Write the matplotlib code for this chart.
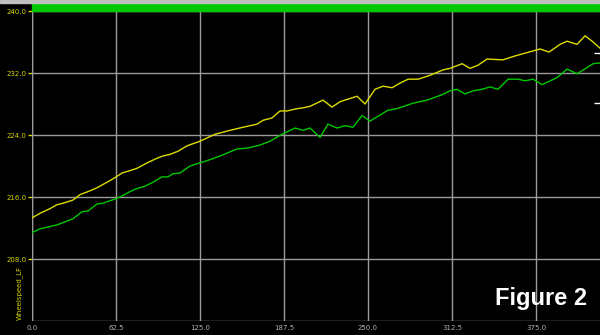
import matplotlib
matplotlib.use('Agg')
import matplotlib.pyplot as plt

# wheel speed traces
x_yel = [0, 5.95, 13.4, 18.5, 23.1, 30.4, 35.7, 43.2, 48.4, 55.8, 61.8, 67.0, 72.9, 78.1,
         85.6, 93.0, 97.5, 102.7, 108.6, 115.3, 125.0, 136.2, 147.3, 157.0, 167.4, 171.9,
         178.6, 184.5, 189.7, 197.2, 201.6, 206.8, 216.5, 223.2, 229.2, 241.8, 247.8,
         255.2, 261.2, 267.9, 273.8, 279.8, 287.2, 296.1, 305.8, 311.0, 320.0, 325.9,
         331.8, 338.5, 350.4, 359.4, 378.0, 384.7, 392.9, 398.1, 405.5, 411.5, 417.5, 422.6]
y_yel = [213.3, 213.9, 214.5, 215.0, 215.2, 215.6, 216.3, 216.8, 217.2, 217.9, 218.5, 219.1,
         219.4, 219.7, 220.4, 221.0, 221.3, 221.5, 221.9, 222.6, 223.2, 224.1, 224.6, 225.0,
         225.4, 225.9, 226.2, 227.1, 227.1, 227.4, 227.5, 227.7, 228.5, 227.6, 228.3, 229.0,
         228.0, 229.9, 230.3, 230.1, 230.7, 231.2, 231.2, 231.7, 232.4, 232.6, 233.2, 232.6,
         233.0, 233.8, 233.7, 234.2, 235.1, 234.7, 235.7, 236.1, 235.7, 236.8, 236.0, 235.2]

x_grn = [0, 5.95, 11.2, 18.6, 24.6, 30.5, 37.2, 41.7, 48.4, 52.8, 59.5, 65.5, 70.7, 76.6,
         84.1, 90.0, 96.7, 101.2, 104.9, 110.1, 117.6, 125.0, 133.9, 139.9, 152.5, 160.0,
         169.6, 177.1, 186.0, 195.7, 201.6, 206.8, 214.3, 220.2, 226.9, 232.9, 238.8, 245.5,
         251.5, 264.9, 271.6, 283.5, 293.9, 305.1, 311.0, 316.2, 322.2, 328.1, 334.8, 340.8,
         346.7, 354.2, 361.6, 366.8, 372.8, 379.5, 390.6, 398.1, 405.5, 417.5, 422.6]
y_grn = [211.4, 211.9, 212.1, 212.4, 212.8, 213.2, 214.1, 214.2, 215.1, 215.2, 215.6, 216.0,
         216.5, 217.0, 217.4, 217.9, 218.6, 218.6, 219.0, 219.1, 220.0, 220.4, 220.9, 221.3,
         222.2, 222.3, 222.7, 223.2, 224.1, 224.9, 224.6, 224.9, 223.7, 225.4, 224.9, 225.2,
         225.0, 226.5, 225.8, 227.2, 227.4, 228.1, 228.5, 229.2, 229.7, 229.9, 229.3, 229.7,
         229.9, 230.2, 229.9, 231.2, 231.2, 231.0, 231.2, 230.5, 231.4, 232.5, 231.9, 233.2, 233.3]

cursor_vals = [234.6, 228.1]

xticks = [0.0, 62.5, 125.0, 187.5, 250.0, 312.5, 375.0]
yticks = [208.0, 216.0, 224.0, 232.0, 240.0]

fig = plt.figure(figsize=(6, 3.35), dpi=100, facecolor='black')
ax = fig.add_axes([32/600, 14/335, 568/600, 310/335], facecolor='black')

ax.set_xlim(0, 422.6)
ax.set_ylim(200, 240)
ax.set_xticks(xticks)
ax.set_yticks(yticks)
ax.set_xticklabels(['%.1f' % v for v in xticks])
ax.set_yticklabels(['%.1f' % v for v in yticks])
ax.grid(True, color='#9a9a9a', linewidth=1)
ax.tick_params(axis='y', colors='#d4d400', labelsize=5, length=3, width=1, pad=1)
ax.tick_params(axis='x', colors='#b0b0b0', labelsize=5, length=0, pad=3)
for s in ax.spines.values():
    s.set_visible(False)
ax.axvline(0, color='#9a9a9a', linewidth=1)
ax.axhline(200, color='#9a9a9a', linewidth=1)

ax.plot(x_yel, y_yel, color='#dcdc00', linewidth=1)
ax.plot(x_grn, y_grn, color='#00c800', linewidth=1)
ax.plot([420.5] * len(cursor_vals), cursor_vals, linestyle='none', marker='_',
        color='white', markersize=4, markeredgewidth=1, clip_on=False)

# green bar along the top and gray rule above it
fig.patches.append(plt.Rectangle((32/600, 324/335), 568/600, 8/335,
                                 transform=fig.transFigure, color='#00c800'))
fig.patches.append(plt.Rectangle((0, 332/335), 1, 3/335,
                                 transform=fig.transFigure, color='#c0c0c0'))

fig.text(19/600, 262/335 * 0 + 15/335, 'Wheelspeed_LF', rotation=90, color='#d4d400',
         fontsize=5, ha='center', va='bottom')
fig.text(541/600, 36/335, 'Figure 2', color='white', fontsize=17,
         fontweight='bold', family='Liberation Sans', ha='center', va='center')

fig.savefig('out.png', dpi=100, facecolor='black')
